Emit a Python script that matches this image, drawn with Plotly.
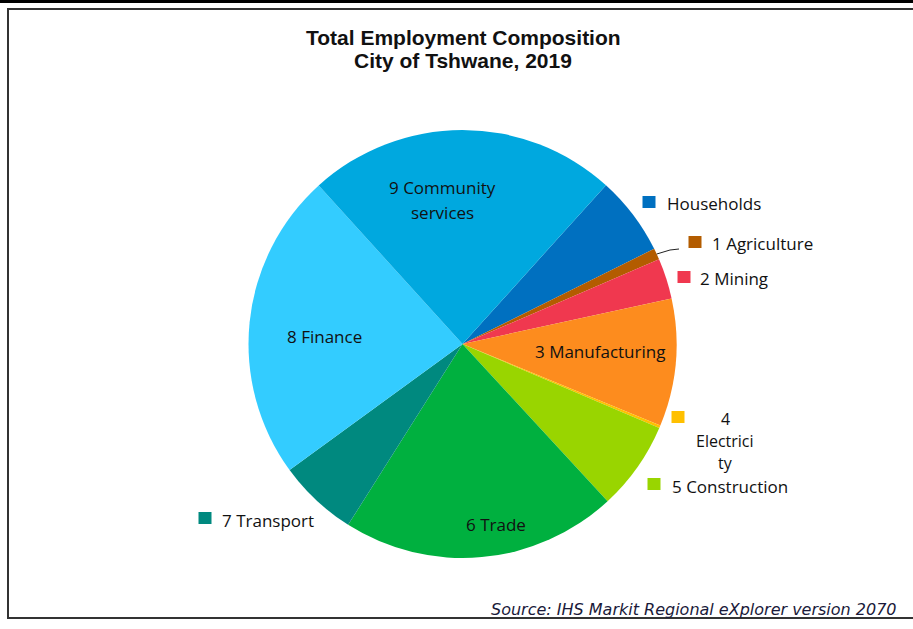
import math
import plotly.graph_objects as go

W, H = 913, 629

# ---- data (clockwise order, starting after "9 Community services") ----
categories = ["Households", "1 Agriculture", "2 Mining", "3 Manufacturing",
              "4 Electricity", "5 Construction", "6 Trade", "7 Transport",
              "8 Finance", "9 Community services"]
shares = [5.97, 0.86, 3.06, 9.64, 0.20, 6.72, 20.83, 6.00, 23.30, 23.42]
colors = ["#0070C0", "#B35C00", "#F0384F", "#FD8C1E", "#FFC000",
          "#99D500", "#00B03F", "#00897F", "#33CCFF", "#00A8DF"]
start_angle = 42.1

title_lines = ["Total Employment Composition", "City of Tshwane, 2019"]
source_text = "Source: IHS Markit Regional eXplorer version 2070"

def px(x):
    return x / W

def py(y):
    return 1 - y / H

# pie geometry (pixels)
cx, cy, R = 462.5, 344.0, 214.0

fig = go.Figure(go.Pie(
    labels=categories, values=shares, sort=False, direction="clockwise",
    rotation=start_angle, marker=dict(colors=colors, line=dict(width=0)),
    textinfo="none", hoverinfo="label+percent", showlegend=False,
    domain=dict(x=[px(cx - R), px(cx + R)], y=[py(cy + R), py(cy - R)]),
))

font_lbl = dict(family="Open Sans, sans-serif", size=17, color="#111111")
font_el = dict(family="Open Sans, sans-serif", size=16, color="#111111")
ann = []

# title
for txt, yy in zip(title_lines, [37, 61]):
    ann.append(dict(text=f"<b>{txt}</b>", x=px(463), y=py(yy), xref="paper", yref="paper",
                    showarrow=False, xanchor="center", yanchor="middle",
                    font=dict(family="Liberation Sans, Arial, sans-serif", size=21, color="#111111")))

# inside labels
inside = [("9 Community", 442, 188), ("services", 442, 213), ("8 Finance", 324.5, 336),
          ("3 Manufacturing", 600, 351), ("6 Trade", 496, 524)]
for t, x, y in inside:
    ann.append(dict(text=t, x=px(x), y=py(y), xref="paper", yref="paper", showarrow=False,
                    xanchor="center", yanchor="middle", font=font_lbl))

# outside labels with keys: (category index, key centre, text x, text y)
outside = [(0, (649, 202), 665, 203), (1, (695, 242), 710, 244), (2, (684, 277), 698, 279),
           (5, (654, 484), 670, 486), (7, (205, 518), 220, 520)]
shapes = []
for i, (kx, ky), tx, ty in outside:
    ann.append(dict(text=categories[i], x=px(tx), y=py(ty), xref="paper", yref="paper",
                    showarrow=False, xanchor="left", yanchor="middle", font=font_lbl))
    shapes.append(dict(type="rect", xref="paper", yref="paper", x0=px(kx - 6.5), x1=px(kx + 6.5),
                       y0=py(ky + 6), y1=py(ky - 6), fillcolor=colors[i], line=dict(width=0)))

# electricity label (wrapped)
shapes.append(dict(type="rect", xref="paper", yref="paper", x0=px(678 - 6.5), x1=px(678 + 6.5),
                   y0=py(417 + 6), y1=py(417 - 6), fillcolor=colors[4], line=dict(width=0)))
for t, yy in zip(["4", "Electrici", "ty"], [419, 441, 463]):
    ann.append(dict(text=t, x=px(725), y=py(yy), xref="paper", yref="paper", showarrow=False,
                    xanchor="center", yanchor="middle", font=font_el))

# leader line for agriculture from slice mid-angle on edge
cum = sum(shares[:1]) + shares[1] / 2
ang = math.radians(start_angle + cum / sum(shares) * 360)
ex, ey = cx + R * math.sin(ang), cy - R * math.cos(ang)
shapes.append(dict(type="path", xref="paper", yref="paper",
                   path=f"M {px(ex)},{py(ey)} L {px(670)},{py(250)} L {px(679)},{py(249)}",
                   line=dict(color="#222222", width=1)))

# frame
shapes.append(dict(type="rect", xref="paper", yref="paper", x0=0, x1=1, y0=py(3), y1=1,
                   fillcolor="#000000", line=dict(width=0)))
shapes.append(dict(type="rect", xref="paper", yref="paper", x0=px(8), x1=px(930), y0=py(618), y1=py(9),
                   fillcolor="rgba(0,0,0,0)", line=dict(color="#333333", width=2)))

# source
ann.append(dict(text=f"<i>{source_text}</i>", x=px(899), y=py(609), xref="paper", yref="paper",
                showarrow=False, xanchor="right", yanchor="middle",
                font=dict(family="DejaVu Sans, Verdana, sans-serif", size=16, color="#1a1a3a")))

fig.update_layout(width=W, height=H, margin=dict(l=0, r=0, t=0, b=0),
                  paper_bgcolor="white", plot_bgcolor="white",
                  annotations=ann, shapes=shapes)

fig.write_html("out.html", config={"displayModeBar": False},
               post_script="document.body.style.margin='0';document.body.style.overflow='hidden';")
